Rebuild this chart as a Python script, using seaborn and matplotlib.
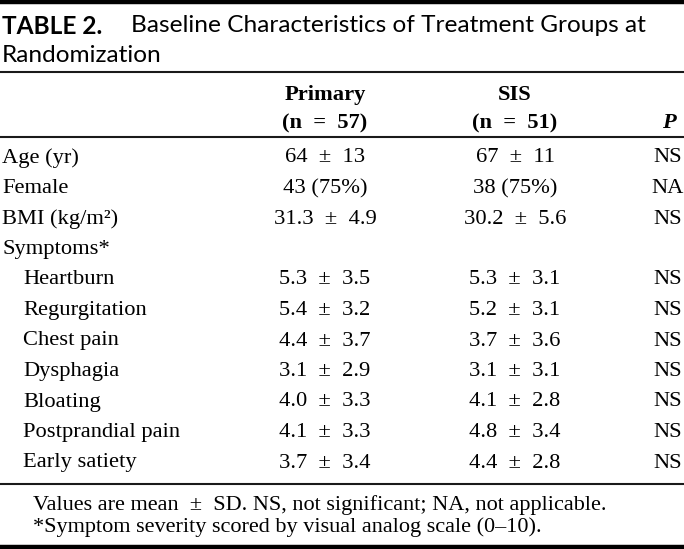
import matplotlib
matplotlib.use("Agg")
import matplotlib.pyplot as plt
import seaborn as sns

# ---- data ----
title_bold = "TABLE 2."
title_text = "Baseline Characteristics of Treatment Groups at"
title_line2 = "Randomization"
col_heads = ["Primary", "SIS"]
col_ns = ["(n = 57)", "(n = 51)"]
p_head = "P"
row_labels = ["Age (yr)", "Female", "BMI (kg/m²)", "Symptoms*", "Heartburn",
              "Regurgitation", "Chest pain", "Dysphagia", "Bloating",
              "Postprandial pain", "Early satiety"]
row_indent = [0, 0, 0, 0, 1, 1, 1, 1, 1, 1, 1]
primary_vals = ["64 ± 13", "43 (75%)", "31.3 ± 4.9", "", "5.3 ± 3.5", "5.4 ± 3.2",
                "4.4 ± 3.7", "3.1 ± 2.9", "4.0 ± 3.3", "4.1 ± 3.3", "3.7 ± 3.4"]
sis_vals = ["67 ± 11", "38 (75%)", "30.2 ± 5.6", "", "5.3 ± 3.1", "5.2 ± 3.1",
            "3.7 ± 3.6", "3.1 ± 3.1", "4.1 ± 2.8", "4.8 ± 3.4", "4.4 ± 2.8"]
p_vals = ["NS", "NA", "NS", "", "NS", "NS", "NS", "NS", "NS", "NS", "NS"]
footnotes = ["Values are mean ± SD. NS, not significant; NA, not applicable.",
             "*Symptom severity scored by visual analog scale (0–10)."]

sns.set_theme(style="white")
serif = ['Liberation Serif', 'DejaVu Serif']
plt.rcParams['font.family'] = serif
plt.rcParams['text.color'] = 'black'

fig = plt.figure(figsize=(6.84, 5.49), dpi=100)
ax = fig.add_axes([0, 0, 1, 1])
ax.set_xlim(0, 684)
ax.set_ylim(549, 0)
ax.axis("off")

def spaced(s):
    return s.replace(" ± ", "  ±  ").replace(" = ", "  =  ")

# rules
ax.axhline(2, color="black", lw=3.2)
ax.axhline(72, color="#1a1a1a", lw=1.5)
ax.axhline(137, color="#1a1a1a", lw=1.5)
ax.axhline(484, color="#1a1a1a", lw=1.5)
ax.axhline(547, color="black", lw=3.2)

# title
tfam = ['Lato', 'DejaVu Sans']
tfs = 17.6
ax.text(2, 26, title_bold, family=tfam, fontsize=tfs, fontweight="bold",
        ha="left", va="center", color="black")
ax.text(131, 26, title_text, family=tfam, fontsize=tfs,
        ha="left", va="center", color="black")
ax.text(2, 56, title_line2, family=tfam, fontsize=tfs,
        ha="left", va="center", color="black")

# header
fs = 16.2
colx = [325, 515]
for x, h, n in zip(colx, col_heads, col_ns):
    ax.text(x, 95, h, family=serif, fontsize=fs, fontweight="bold",
            ha="center", va="center", color="black")
    ax.text(x, 123, spaced(n), family=serif, fontsize=fs, fontweight="bold",
            ha="center", va="center", color="black")
ax.text(669, 123, p_head, family=serif, fontsize=fs, fontweight="bold",
        style="italic", ha="center", va="center", color="black")

# body
for i, (lab, ind, a, b, p) in enumerate(zip(row_labels, row_indent, primary_vals,
                                             sis_vals, p_vals)):
    y = 158 + 30.5 * i
    ax.text(2 + 21 * ind, y, lab, family=serif, fontsize=fs, ha="left",
            va="center", color="black")
    ax.text(colx[0], y, spaced(a), family=serif, fontsize=fs, ha="center",
            va="center", color="black")
    ax.text(colx[1], y, spaced(b), family=serif, fontsize=fs, ha="center",
            va="center", color="black")
    ax.text(668, y, p, family=serif, fontsize=fs, ha="center", va="center",
            color="black")

# footnotes
ffs = 16.0
ax.text(33, 505, footnotes[0].replace(" ± ", "  ±  "), family=serif, fontsize=ffs,
        ha="left", va="center", color="black")
ax.text(33, 527, footnotes[1], family=serif, fontsize=ffs, ha="left",
        va="center", color="black")

fig.savefig("out.png", dpi=100)
